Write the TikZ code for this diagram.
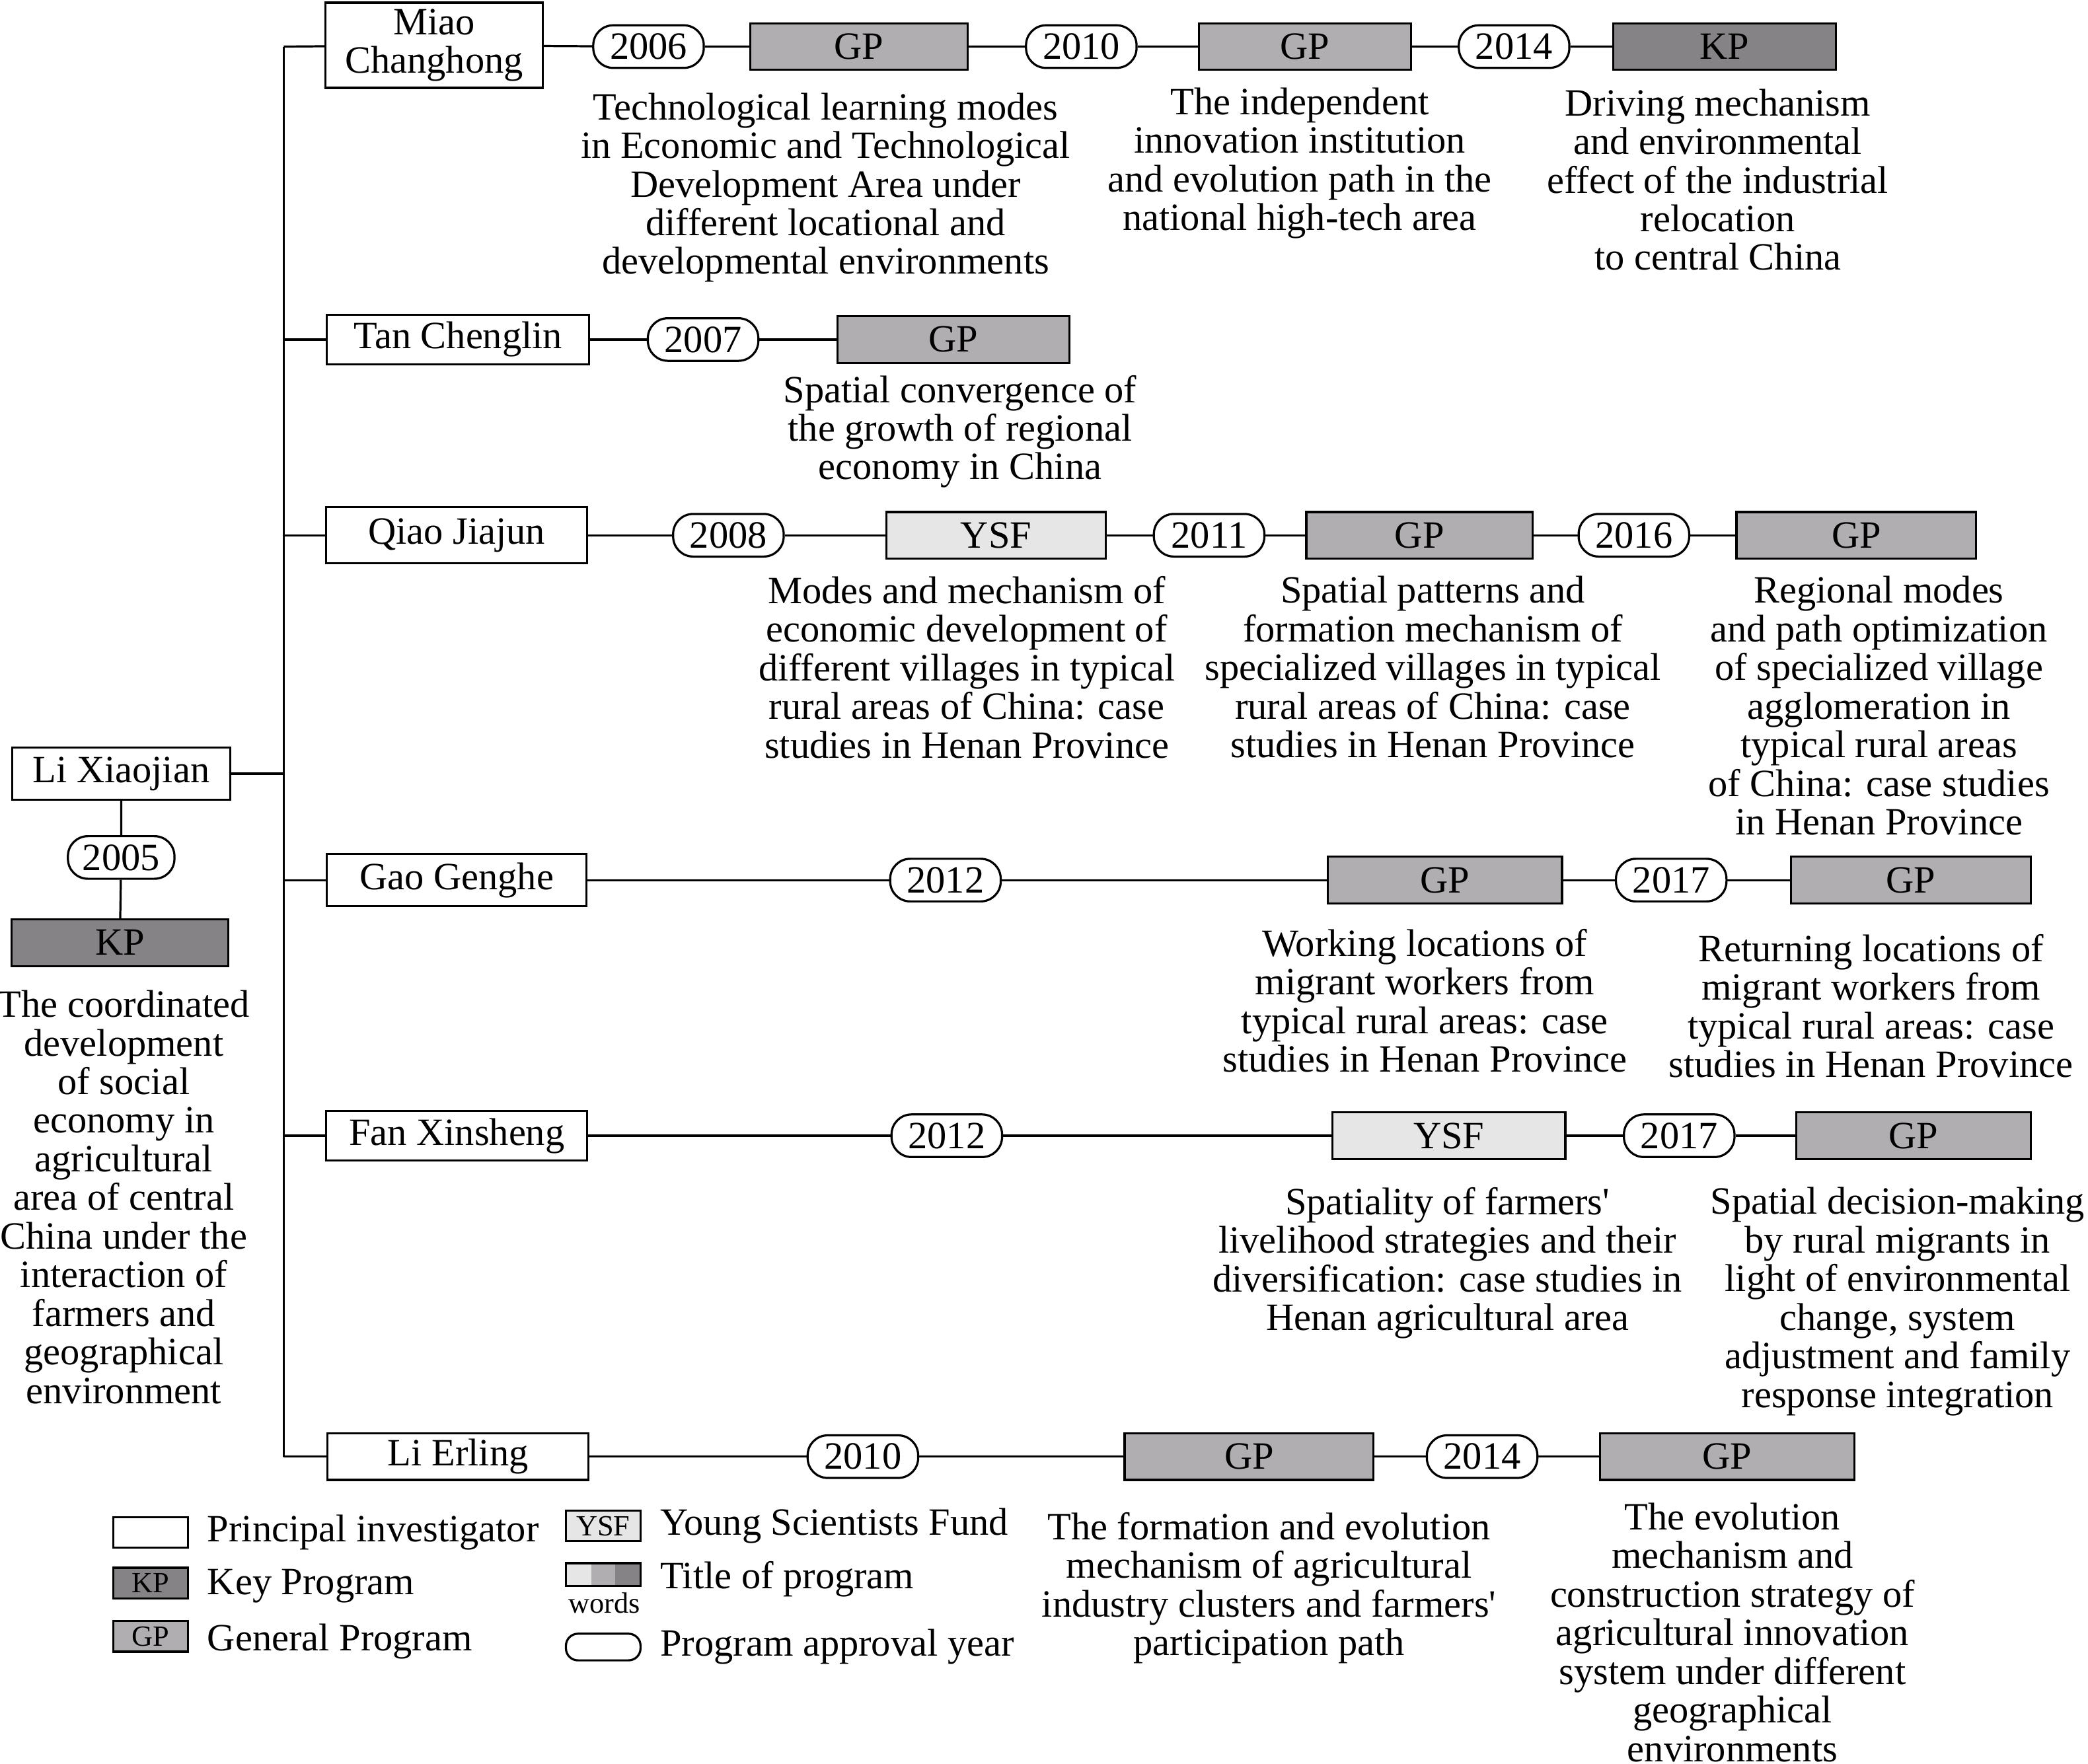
\documentclass[tikz,border=0pt]{standalone}
\usepackage{fontspec}
\setmainfont{Liberation Serif}[Ligatures=TeXOff]
\definecolor{kpfill}{HTML}{858385}
\definecolor{gpfill}{HTML}{B0AEB1}
\definecolor{ysffill}{HTML}{E6E6E6}
\begin{document}
\begin{tikzpicture}[x=1pt,y=-1pt,line width=1.6pt,font=\fontsize{29}{29}\selectfont,
	pi/.style={draw,fill=white,inner sep=0,minimum height=37pt},
	kp/.style={draw,fill=kpfill,inner sep=0,minimum height=35pt},
	gp/.style={draw,fill=gpfill,inner sep=0,minimum height=35pt},
	ysf/.style={draw,fill=ysffill,inner sep=0,minimum height=35pt},
	yr/.style={draw,fill=white,rounded corners=15pt,inner sep=0,minimum width=83pt,minimum height=32pt},
	title/.style={align=center,anchor=north,inner sep=0},
	key/.style={anchor=west,inner sep=0},
	keybox/.style={draw,inner sep=0,minimum width=56pt,minimum height=23pt,font=\fontsize{22}{22}\selectfont}]
	\useasboundingbox (0,0) rectangle (1568,1324.4);
	\coordinate (t1) at (213,35);
	\coordinate (t6) at (213,1094);
	\draw (t1) -- (t6);

	\node[pi,minimum width=164pt,minimum height=39pt] (li) at (91,581) {Li Xiaojian};
	\node[yr,minimum width=80pt] (li05) at (91,644) {2005};
	\node[kp,minimum width=163pt] (li05p) at (90,708) {KP};
	\node[title] (li05t) at (93,743) {The coordinated\\development\\of social\\economy in\\agricultural\\area of central\\China under the\\interaction of\\farmers and\\geographical\\environment};
	\draw (li) -- (li05) -- (li05p);
	\draw (li) -- (li -| t1);

	\node[pi,align=center,minimum width=163pt,minimum height=64pt] (miao) at (326,34) {Miao\\Changhong};
	\node[yr] (m06) at (487,35) {2006};
	\node[gp,minimum width=163pt] (m06p) at (645,35) {GP};
	\node[yr] (m10) at (812,35) {2010};
	\node[gp,minimum width=159pt] (m10p) at (980,35) {GP};
	\node[yr] (m14) at (1137,35) {2014};
	\node[kp,minimum width=167pt] (m14p) at (1295,35) {KP};
	\node[title] (m06t) at (620,69) {Technological learning modes\\in Economic and Technological\\Development Area under\\different locational and\\developmental environments};
	\node[title] (m10t) at (976,65) {The independent\\innovation institution\\and evolution path in the\\national high-tech area};
	\node[title] (m14t) at (1290,66) {Driving mechanism\\and environmental\\effect of the industrial\\relocation\\to central China};
	\draw (t1) -- (miao) -- (m06) -- (m06p) -- (m10) -- (m10p) -- (m14) -- (m14p);

	\node[pi,minimum width=197pt] (tan) at (344,255) {Tan Chenglin};
	\node[yr] (t07) at (528,255) {2007};
	\node[gp,minimum width=174pt] (t07p) at (716,255) {GP};
	\node[title] (t07t) at (721,281) {Spatial convergence of\\the growth of regional\\economy in China};
	\draw (tan -| t1) -- (tan) -- (t07) -- (t07p);

	\node[pi,minimum width=196pt,minimum height=42pt] (qiao) at (343,402) {Qiao Jiajun};
	\node[yr] (q08) at (547,402) {2008};
	\node[ysf,minimum width=165pt] (q08p) at (748,402) {YSF};
	\node[yr] (q11) at (908,402) {2011};
	\node[gp,minimum width=170pt] (q11p) at (1066,402) {GP};
	\node[yr] (q16) at (1227,402) {2016};
	\node[gp,minimum width=180pt] (q16p) at (1394,402) {GP};
	\node[title] (q08t) at (726,432) {Modes and mechanism of\\economic development of\\different villages in typical\\rural areas of China: case\\studies in Henan Province};
	\node[title] (q11t) at (1076,432) {Spatial patterns and\\formation mechanism of\\specialized villages in typical\\rural areas of China: case\\studies in Henan Province};
	\node[title] (q16t) at (1411,432) {Regional modes\\and path optimization\\of specialized village\\agglomeration in\\typical rural areas\\of China: case studies\\in Henan Province};
	\draw (qiao -| t1) -- (qiao) -- (q08) -- (q08p) -- (q11) -- (q11p) -- (q16) -- (q16p);

	\node[pi,minimum width=195pt,minimum height=39pt] (gao) at (343,661) {Gao Genghe};
	\node[yr] (g12) at (710,661) {2012};
	\node[gp,minimum width=176pt] (g12p) at (1085,661) {GP};
	\node[yr] (g17) at (1255,661) {2017};
	\node[gp,minimum width=180pt] (g17p) at (1435,661) {GP};
	\node[title] (g12t) at (1070,697) {Working locations of\\migrant workers from\\typical rural areas: case\\studies in Henan Province};
	\node[title] (g17t) at (1405,701) {Returning locations of\\migrant workers from\\typical rural areas: case\\studies in Henan Province};
	\draw (gao -| t1) -- (gao) -- (g12) -- (g12p) -- (g17) -- (g17p);

	\node[pi,minimum width=196pt] (fan) at (343,853) {Fan Xinsheng};
	\node[yr] (f12) at (711,853) {2012};
	\node[ysf,minimum width=175pt] (f12p) at (1088,853) {YSF};
	\node[yr] (f17) at (1261,853) {2017};
	\node[gp,minimum width=176pt] (f17p) at (1437,853) {GP};
	\node[title] (f12t) at (1087,891) {Spatiality of farmers'\\livelihood strategies and their\\diversification: case studies in\\Henan agricultural area};
	\node[title] (f17t) at (1425,891) {Spatial decision-making\\by rural migrants in\\light of environmental\\change, system\\adjustment and family\\response integration};
	\draw (fan -| t1) -- (fan) -- (f12) -- (f12p) -- (f17) -- (f17p);

	\node[pi,minimum width=196pt,minimum height=35pt] (erl) at (344,1094) {Li Erling};
	\node[yr] (e10) at (648,1094) {2010};
	\node[gp,minimum width=187pt] (e10p) at (938,1094) {GP};
	\node[yr] (e14) at (1113,1094) {2014};
	\node[gp,minimum width=191pt] (e14p) at (1297,1094) {GP};
	\node[title] (e10t) at (953,1135) {The formation and evolution\\mechanism of agricultural\\industry clusters and farmers'\\participation path};
	\node[title] (e14t) at (1301,1128) {The evolution\\mechanism and\\construction strategy of\\agricultural innovation\\system under different\\geographical\\environments};
	\draw (t6) -- (erl) -- (e10) -- (e10p) -- (e14) -- (e14p);

	\node[keybox,fill=white] (kpi) at (113,1151) {};
	\node[key] (kpil) at (155,1151) {Principal investigator};
	\node[keybox,fill=kpfill] (kkp) at (113,1189) {KP};
	\node[key] (kkpl) at (155,1191) {Key Program};
	\node[keybox,fill=gpfill] (kgp) at (113,1229) {GP};
	\node[key] (kgpl) at (155,1233) {General Program};
	\node[keybox,fill=ysffill] (kysf) at (453,1146) {YSF};
	\node[key] (kysfl) at (495,1146) {Young Scientists Fund};
	\fill[ysffill] (425,1174) rectangle (444,1191);
	\fill[gpfill] (444,1174) rectangle (462,1191);
	\fill[kpfill] (462,1174) rectangle (481,1191);
	\draw (425,1174) rectangle (481,1191);
	\node[inner sep=0,font=\fontsize{22}{22}\selectfont] (kw) at (454,1204) {words};
	\node[key] (kwl) at (495,1186) {Title of program};
	\node[keybox,minimum height=20pt,rounded corners=9pt] (kyr) at (453,1237) {};
	\node[key] (kyrl) at (495,1237) {Program approval year};
\end{tikzpicture}
\end{document}
